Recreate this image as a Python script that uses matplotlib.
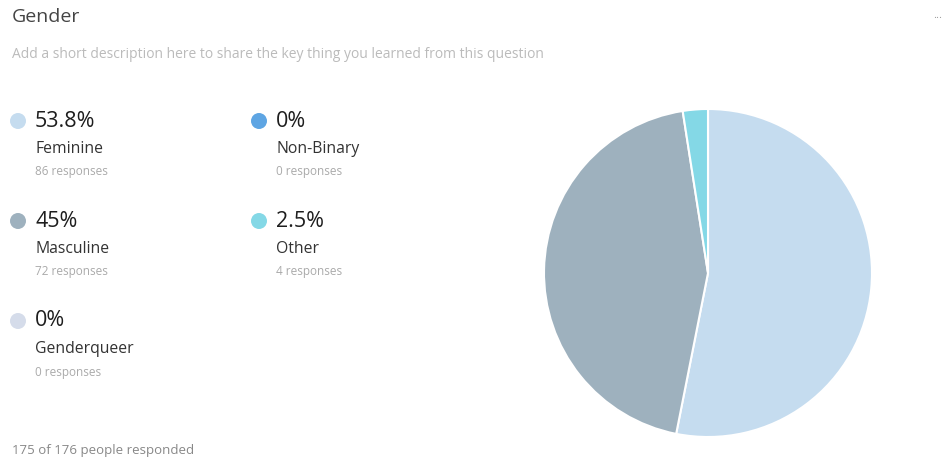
import matplotlib.pyplot as plt

# Survey answers for the gender question
labels = ['Feminine', 'Masculine', 'Genderqueer', 'Non-Binary', 'Other']
percents = [53.8, 45, 0, 0, 2.5]
responses = [86, 72, 0, 0, 4]
colors = ['#c5dcef', '#9eb1be', '#d5dcea', '#5ea5e3', '#84d8e6']
answered, asked = 175, 176

W, H = 947, 465
plt.rcParams['font.family'] = ['Open Sans', 'DejaVu Sans']


def fx(px):
    return px / W


def fy(py):
    return 1 - py / H


def pct_text(p):
    return ('%g' % p) + '%'


fig = plt.figure(figsize=(W / 100, H / 100), dpi=100)
fig.patch.set_facecolor('white')

# Header
fig.text(fx(12), fy(17), 'Gender', fontsize=14, color='#444444', va='center')
fig.text(fx(12), fy(54), 'Add a short description here to share the key thing you learned from this question',
         fontsize=10, color='#bbbbbb', va='center')
fig.text(fx(938), fy(16), '...', fontsize=8, color='#999999', va='center', ha='center')

# Legend blocks, filled column by column (three rows per column)
col_x = [18, 259]
row_y = [121, 221, 321]
for i, (lab, p, n, c) in enumerate(zip(labels, percents, responses, colors)):
    cx = col_x[i // 3]
    cy = row_y[i % 3]
    dot = plt.Circle((cx / 100, (H - cy) / 100), 0.08, transform=fig.dpi_scale_trans,
                     facecolor=c, edgecolor='none')
    fig.patches.append(dot)
    fig.text(fx(cx + 17), fy(cy), pct_text(p), fontsize=15.5, color='#1e1e1e', va='center')
    fig.text(fx(cx + 17), fy(cy + 28), lab, fontsize=11.3, color='#333333', va='center')
    fig.text(fx(cx + 17), fy(cy + 51), '%d responses' % n, fontsize=8.5, color='#aaaaaa', va='center')

fig.text(fx(12), fy(450), '%d of %d people responded' % (answered, asked),
         fontsize=9.5, color='#888888', va='center')

# Pie, only non-empty slices
cx, cy, r = 708, 273, 164
ax = fig.add_axes([fx(cx - r), fy(cy + r), 2 * r / W, 2 * r / H])
vals = [p for p in percents if p > 0]
cols = [c for p, c in zip(percents, colors) if p > 0]
ax.pie(vals, colors=cols, startangle=90, counterclock=False,
       wedgeprops=dict(edgecolor='white', linewidth=1.5))
ax.set_xlim(-1.0, 1.0)
ax.set_ylim(-1.0, 1.0)
ax.set_aspect('equal')
ax.axis('off')

fig.savefig('out.png', dpi=100, facecolor='white')
